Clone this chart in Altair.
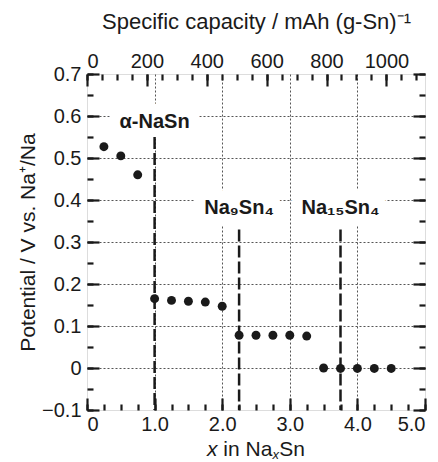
import altair as alt
import pandas as pd

# Sodium content x in NaxSn and equilibrium potential (V vs. Na+/Na)
x_na = [0.25, 0.5, 0.75, 1.0, 1.25, 1.5, 1.75, 2.0, 2.25,
        2.5, 2.75, 3.0, 3.25, 3.5, 3.75, 4.0, 4.25, 4.5]
potential = [0.527, 0.505, 0.46, 0.165, 0.161, 0.159, 0.157, 0.147, 0.078,
             0.078, 0.078, 0.078, 0.076, 0.0, -0.001, -0.001, -0.001, -0.001]

# Intermetallic phases formed during sodiation
phase_names = ["α-NaSn", "Na₉Sn₄", "Na₁₅Sn₄"]
phase_x = [1.0, 2.25, 3.75]
phase_line_top = [0.55, 0.33, 0.33]
phase_label_y = [0.585, 0.38, 0.38]

# Axis ticks
x_major = [0, 1, 2, 3, 4, 5]
x_minor = [i * 0.25 for i in range(21)]
x_grid = [1, 2, 3, 4]
y_major = [-0.1, 0.0, 0.1, 0.2, 0.3, 0.4, 0.5, 0.6, 0.7]
y_minor = [round(-0.1 + i * 0.05, 2) for i in range(17)]
y_grid = [0.0, 0.1, 0.2, 0.3, 0.4, 0.5, 0.6]
cap_major = [0, 200, 400, 600, 800, 1000]
cap_minor = [i * 50 for i in range(23)]

# 1 Na per Sn = F / M(Sn) = 26801 mAh/mol / 118.71 g/mol
MAH_PER_G_PER_NA = 225.8
X_MAX = 5

FONT = "Liberation Sans"
INK = "#1a1a1a"
MAJOR_LEN = 12
MINOR_LEN = 6

df = pd.DataFrame({"x": x_na, "potential": potential})
df["capacity"] = df["x"] * MAH_PER_G_PER_NA
phases = pd.DataFrame({"name": phase_names, "x": phase_x,
                       "top": phase_line_top, "label_y": phase_label_y,
                       "bottom": [-0.1] * len(phase_x)})


def xscale():
    return alt.Scale(domain=[0, X_MAX], nice=False, zero=False)


def yscale():
    return alt.Scale(domain=[-0.1, 0.7], nice=False, zero=False)


def capscale():
    return alt.Scale(domain=[0, X_MAX * MAH_PER_G_PER_NA], nice=False, zero=False)


def tick_axis(orient, values, length, **kw):
    return alt.Axis(orient=orient, values=values, offset=-length,
                    tickSize=length, tickWidth=2.2, tickColor=INK,
                    domain=False, grid=False, labelFont=FONT, labelFontSize=20,
                    labelColor=INK, zindex=1, **kw)


def grid_axis(orient, values):
    return alt.Axis(orient=orient, values=values, grid=True, gridColor="#555555",
                    gridDash=[2, 2], gridWidth=1, ticks=False, labels=False,
                    domain=False, title=None, zindex=0)


def carrier(x_enc, y_enc):
    return alt.Chart(df).mark_point(opacity=0).encode(x=x_enc, y=y_enc)


num_expr = "datum.value == 0 ? '0' : format(datum.value, '.1f')"

# dotted grid
grid_layer = carrier(
    alt.X("x:Q", scale=xscale(), axis=grid_axis("bottom", x_grid)),
    alt.Y("potential:Q", scale=yscale(), axis=grid_axis("left", y_grid)),
)

# major ticks + labels, bottom and left
major_layer = carrier(
    alt.X("x:Q", scale=xscale(),
          axis=tick_axis("bottom", x_major, MAJOR_LEN, labelExpr=num_expr,
                         labelPadding=4, title=None)),
    alt.Y("potential:Q", scale=yscale(),
          axis=tick_axis("left", y_major, MAJOR_LEN, labelExpr=num_expr,
                         labelPadding=6, title="Potential / V vs. Na⁺/Na",
                         titleFont=FONT, titleFontSize=21, titleFontWeight="normal",
                         titleColor=INK, titlePadding=3)),
)

# minor ticks, bottom and left
minor_layer = carrier(
    alt.X("x:Q", scale=xscale(),
          axis=tick_axis("bottom", x_minor, MINOR_LEN, labels=False, title=None)),
    alt.Y("potential:Q", scale=yscale(),
          axis=tick_axis("left", y_minor, MINOR_LEN, labels=False, title=None)),
)

# specific capacity axis on top, plain ticks on the right
cap_major_layer = carrier(
    alt.X("capacity:Q", scale=capscale(),
          axis=tick_axis("top", cap_major, MAJOR_LEN, format="d", labelPadding=3,
                         title="Specific capacity / mAh (g-Sn)⁻¹",
                         titleFont=FONT, titleFontSize=22, titleFontWeight="normal",
                         titleColor=INK, titlePadding=18)),
    alt.Y("potential:Q", scale=yscale(),
          axis=tick_axis("right", y_major, MAJOR_LEN, labels=False, title=None)),
)
cap_minor_layer = carrier(
    alt.X("capacity:Q", scale=capscale(),
          axis=tick_axis("top", cap_minor, MINOR_LEN, labels=False, title=None)),
    alt.Y("potential:Q", scale=yscale(),
          axis=tick_axis("right", y_minor, MINOR_LEN, labels=False, title=None)),
)

# phase boundaries
phase_rules = alt.Chart(phases).mark_rule(
    color=INK, strokeWidth=2.5, strokeDash=[12, 4]
).encode(
    x=alt.X("x:Q", scale=xscale(), axis=None),
    y=alt.Y("top:Q", scale=yscale(), axis=None),
    y2="bottom:Q",
)

label_base = alt.Chart(phases).encode(
    x=alt.X("x:Q", scale=xscale(), axis=None),
    y=alt.Y("label_y:Q", scale=yscale(), axis=None),
    text="name:N",
)
label_halo = label_base.mark_text(
    font=FONT, fontSize=20, fontWeight="bold", fill="white", stroke="white",
    strokeWidth=22, strokeJoin="round", baseline="middle", align="center",
)
label_text = label_base.mark_text(
    font=FONT, fontSize=20, fontWeight="bold", color=INK,
    baseline="middle", align="center",
)

points = alt.Chart(df).mark_circle(size=80, color=INK, opacity=1).encode(
    x=alt.X("x:Q", scale=xscale(), axis=None),
    y=alt.Y("potential:Q", scale=yscale(), axis=None),
)


def title_piece(text, px, py, size=21, style="normal"):
    return alt.Chart(alt.Data(values=[{}])).mark_text(
        text=text, font=FONT, fontSize=size, fontStyle=style, color=INK,
        align="left", baseline="alphabetic",
    ).encode(x=alt.value(px), y=alt.value(py))


# "x in NaxSn" bottom title, x italic and subscripted
x_title = [
    title_piece("x", 120, 382, style="italic"),
    title_piece("in Na", 136.3, 382),
    title_piece("x", 185.6, 385, size=13, style="italic"),
    title_piece("Sn", 192.2, 382),
]

chart = alt.layer(
    grid_layer, major_layer, minor_layer, cap_major_layer, cap_minor_layer,
    label_halo, phase_rules, label_text, points, *x_title,
).resolve_scale(
    x="independent", y="independent"
).resolve_axis(
    x="independent", y="independent"
).properties(
    width=338, height=336,
    autosize=alt.AutoSizeParams(type="none"),
    padding={"left": 87, "top": 74, "right": 13, "bottom": 52},
).configure_view(
    stroke=INK, strokeWidth=2.5
).configure(background="white")

chart.save("out.html", embed_options={"renderer": "svg", "actions": False})
